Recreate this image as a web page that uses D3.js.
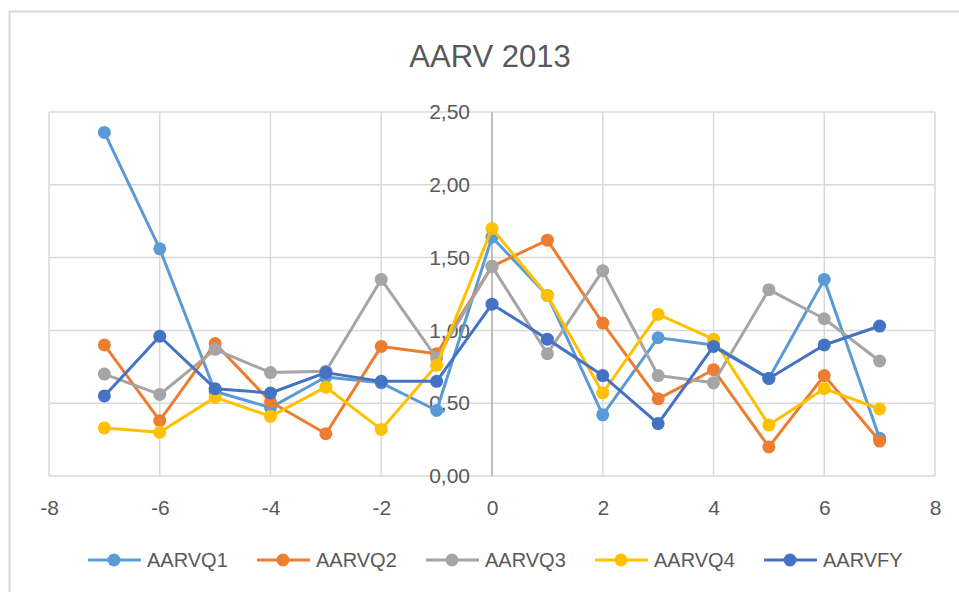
<!DOCTYPE html>
<html lang="en">
<head>
  <meta charset="UTF-8">
  <style>
    body { margin: 0; background: #fff; }
    svg { display: block; font-family: "Liberation Sans", Arial, sans-serif; }
    .grid line { stroke: #d9d9d9; stroke-width: 1.5; }
    .axis path, .axis line { display: none; }
    .axis text { fill: #595959; font-size: 21px; }
    .fn { fill: none; stroke-width: 3; stroke-linejoin: round; stroke-linecap: round; }
  </style>
</head>
<body>
  <svg width="959" height="592"></svg>
  <script src="https://cdnjs.cloudflare.com/ajax/libs/d3/7.8.5/d3.min.js"></script>
  <script>
    // data
    const xs = [-7, -6, -5, -4, -3, -2, -1, 0, 1, 2, 3, 4, 5, 6, 7]
    const aarvq1 = [2.36, 1.56, 0.58, 0.47, 0.68, 0.64, 0.45, 1.64, 1.24, 0.42, 0.95, 0.90, 0.67, 1.35, 0.26]
    const aarvq2 = [0.90, 0.38, 0.91, 0.51, 0.29, 0.89, 0.84, 1.44, 1.62, 1.05, 0.53, 0.73, 0.20, 0.69, 0.24]
    const aarvq3 = [0.70, 0.56, 0.87, 0.71, 0.72, 1.35, 0.81, 1.44, 0.84, 1.41, 0.69, 0.64, 1.28, 1.08, 0.79]
    const aarvq4 = [0.33, 0.30, 0.54, 0.41, 0.61, 0.32, 0.76, 1.70, 1.24, 0.57, 1.11, 0.94, 0.35, 0.60, 0.46]
    const aarvfy = [0.55, 0.96, 0.60, 0.57, 0.71, 0.65, 0.65, 1.18, 0.94, 0.69, 0.36, 0.89, 0.67, 0.90, 1.03]
    const seriesNames = ['AARVQ1', 'AARVQ2', 'AARVQ3', 'AARVQ4', 'AARVFY']
    const xTicks = [-8, -6, -4, -2, 0, 2, 4, 6, 8]
    const xTickLabels = ['-8', '-6', '-4', '-2', '0', '2', '4', '6', '8']
    const yTicks = [0, 0.5, 1, 1.5, 2, 2.5]
    const yTickLabels = ['0,00', '0,50', '1,00', '1,50', '2,00', '2,50']

    const colors = ['#5b9bd5', '#ed7d31', '#a5a5a5', '#ffc000', '#4472c4']
    const series = [aarvq1, aarvq2, aarvq3, aarvq4, aarvfy].map((vals, i) => ({
      name: seriesNames[i],
      color: colors[i],
      points: xs.map((x, j) => ({ x: x, y: vals[j] }))
    }))

    const xScale = d3.scaleLinear().domain([-8, 8]).range([49, 935])
    const yScale = d3.scaleLinear().domain([0, 2.5]).range([476, 112])

    const svg = d3.select('svg')

    // chart border (cropped at right and bottom)
    svg.append('rect')
        .attr('x', 9.5).attr('y', 11.5)
        .attr('width', 970).attr('height', 600)
        .attr('fill', '#fff')
        .attr('stroke', '#d9d9d9')
        .attr('stroke-width', 2)

    // title
    svg.append('text')
        .attr('x', 490).attr('y', 67)
        .attr('text-anchor', 'middle')
        .attr('fill', '#595959')
        .style('font-size', '31px')
        .text('AARV 2013')

    // Grid
    // ====
    const grid = svg.append('g').attr('class', 'grid')
    grid.selectAll('.h').data(yTicks).enter().append('line')
        .attr('x1', xScale(-8)).attr('x2', xScale(8))
        .attr('y1', d => yScale(d)).attr('y2', d => yScale(d))
    grid.selectAll('.v').data(xTicks.filter(d => d !== 0)).enter().append('line')
        .attr('x1', d => xScale(d)).attr('x2', d => xScale(d))
        .attr('y1', yScale(0)).attr('y2', yScale(2.5))

    // y axis line at x = 0
    svg.append('line')
        .attr('x1', xScale(0)).attr('x2', xScale(0))
        .attr('y1', yScale(0)).attr('y2', yScale(2.5))
        .attr('stroke', '#bfbfbf').attr('stroke-width', 2)

    // Axes (labels only)
    // ==================
    svg.append('g')
        .attr('class', 'axis')
        .attr('transform', `translate(${xScale(0)}, 0)`)
        .call(d3.axisLeft(yScale).tickValues(yTicks).tickSize(0).tickPadding(22)
          .tickFormat((d, i) => yTickLabels[i]))
    svg.append('g')
        .attr('class', 'axis')
        .attr('transform', `translate(0, ${yScale(0)})`)
        .call(d3.axisBottom(xScale).tickValues(xTicks).tickSize(0).tickPadding(24)
          .tickFormat((d, i) => xTickLabels[i]))

    // Series
    // ======
    const line = d3.line()
      .x(d => xScale(d.x))
      .y(d => yScale(d.y))

    series.forEach(s => {
      const g = svg.append('g')
      g.append('path')
          .datum(s.points)
          .attr('class', 'fn')
          .attr('stroke', s.color)
          .attr('d', line)
      g.selectAll('circle')
          .data(s.points)
        .enter().append('circle')
          .attr('cx', d => xScale(d.x))
          .attr('cy', d => yScale(d.y))
          .attr('r', 6.5)
          .attr('fill', s.color)
    })

    // Legend
    // ======
    const legend = svg.append('g')
      .selectAll('g')
        .data(series)
      .enter().append('g')
        .attr('transform', (d, i) => `translate(${88 + i * 169}, 560)`)
    legend.append('line')
        .attr('x1', 0).attr('x2', 53)
        .attr('stroke', d => d.color)
        .attr('stroke-width', 3)
    legend.append('circle')
        .attr('cx', 26).attr('r', 6.5)
        .attr('fill', d => d.color)
    legend.append('text')
        .attr('x', 59).attr('dy', '0.35em')
        .attr('fill', '#595959')
        .style('font-size', '20px')
        .text(d => d.name)
  </script>
</body>
</html>
